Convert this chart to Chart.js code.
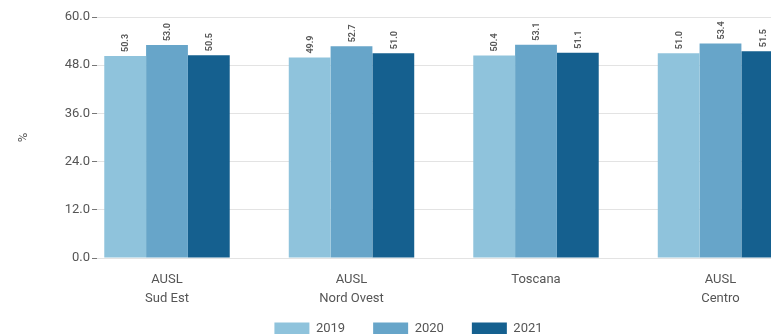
<!DOCTYPE html>
<html>
<head>
<meta charset="utf-8">
<script src="https://cdn.jsdelivr.net/npm/chart.js@4"></script>
<style>
  html, body { margin: 0; padding: 0; background: #fff; }
  #wrap { width: 771px; height: 334px; position: relative; }
</style>
</head>
<body>
<div id="wrap"><canvas id="chart"></canvas></div>
<script>
// Dati
const categories = [['AUSL', 'Sud Est'], ['AUSL', 'Nord Ovest'], 'Toscana', ['AUSL', 'Centro']];
const years = ['2019', '2020', '2021'];
const values2019 = [50.3, 49.9, 50.4, 51.0];
const values2020 = [53.0, 52.7, 53.1, 53.4];
const values2021 = [50.5, 51.0, 51.1, 51.5];
const yTicks = [0, 12, 24, 36, 48, 60];

const colors = ['#8fc3dc', '#67a5c9', '#15608f'];
const textColor = '#555';
const fontFamily = 'Roboto, "Liberation Sans", sans-serif';

// Etichette ruotate sopra le barre
const barLabels = {
    id: 'barLabels',
    afterDatasetsDraw(chart) {
        const ctx = chart.ctx;
        ctx.save();
        ctx.font = 'bold 9px ' + fontFamily;
        ctx.fillStyle = '#5a5a5a';
        ctx.textAlign = 'left';
        ctx.textBaseline = 'middle';
        chart.data.datasets.forEach((ds, i) => {
            chart.getDatasetMeta(i).data.forEach((bar, j) => {
                ctx.save();
                ctx.translate(bar.x + 1, bar.y - 4);
                ctx.rotate(-Math.PI / 2);
                ctx.fillText(ds.data[j].toFixed(1), 0, 0);
                ctx.restore();
            });
        });
        ctx.restore();
    }
};

// L'area dei gruppi e' scorsa a sinistra rispetto all'asse (grafico tagliato)
const shiftX = {
    id: 'shiftX',
    afterLayout(chart) {
        const x = chart.scales.x;
        x._startPixel = 74.75;
        x._length = 738;
        x._endPixel = x._startPixel + x._length;
        // le etichette su due righe escono dall'altezza dell'asse
        x.bottom = chart.height;
        // legenda spostata a destra come nell'originale
        chart.legend.left += 46;
    }
};

new Chart(document.getElementById('chart'), {
    type: 'bar',
    data: {
        labels: categories,
        datasets: [
            { label: years[0], data: values2019, backgroundColor: colors[0] },
            { label: years[1], data: values2020, backgroundColor: colors[1] },
            { label: years[2], data: values2021, backgroundColor: colors[2] }
        ]
    },
    options: {
        responsive: true,
        maintainAspectRatio: false,
        animation: false,
        layout: { padding: { top: 17, right: 0, left: 0, bottom: -11 } },
        datasets: {
            bar: { barPercentage: 1, categoryPercentage: 0.68 }
        },
        plugins: {
            legend: {
                position: 'bottom',
                labels: {
                    boxWidth: 35,
                    boxHeight: 12,
                    padding: 28,
                    color: textColor,
                    font: { family: fontFamily, size: 13 }
                }
            },
            tooltip: { enabled: false }
        },
        scales: {
            x: {
                grid: { display: false, drawTicks: false },
                border: { display: false },
                afterFit(scale) {
                    scale.height = 36;
                },
                ticks: {
                    color: textColor,
                    font: { family: fontFamily, size: 13, lineHeight: 1.4 },
                    padding: 13,
                    maxRotation: 0,
                    autoSkip: false
                }
            },
            y: {
                min: 0,
                max: 60,
                afterBuildTicks(scale) {
                    scale.ticks = yTicks.map(v => ({ value: v }));
                },
                afterFit(scale) {
                    scale.width = 97;
                },
                grid: { color: '#e3e3e3', tickColor: '#777', tickLength: 5 },
                border: { display: false },
                ticks: {
                    color: textColor,
                    font: { family: fontFamily, size: 13 },
                    padding: 2,
                    callback: v => v.toFixed(1)
                },
                title: {
                    display: true,
                    text: '%',
                    color: textColor,
                    font: { family: fontFamily, size: 13 },
                    padding: { top: 16, bottom: 4 }
                }
            }
        }
    },
    plugins: [barLabels, shiftX]
});
</script>
</body>
</html>
